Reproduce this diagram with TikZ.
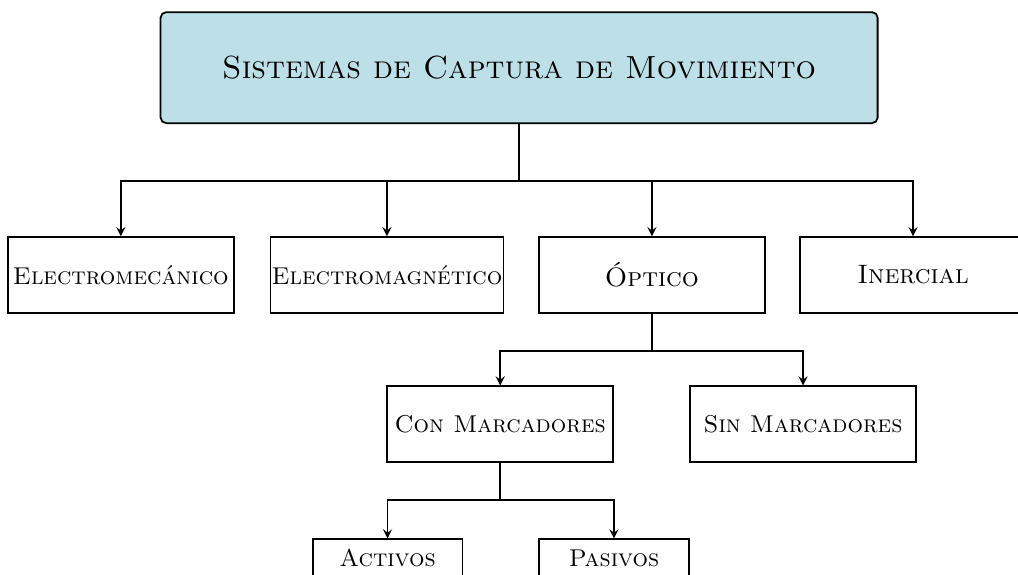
\documentclass[tikz,border=0pt,11pt]{standalone}
\usetikzlibrary{positioning}
\definecolor{celeste}{RGB}{189,224,232}

\begin{document}
\begin{tikzpicture}[
caja/.style={draw,thick,minimum width=3.57cm,minimum height=1.2cm,inner sep=0.5pt,font=\normalsize\scshape},
cajita/.style={caja,minimum width=2.37cm,minimum height=0.6cm},
raiz/.style={draw,thick,rounded corners=2.5pt,fill=celeste,minimum width=11.34cm,minimum height=1.755cm,font=\Large\scshape},
flecha/.style={thick,-stealth}]
\useasboundingbox (0,0) rectangle (16.1,-9.09);
\node[raiz] (sistemas) at (8.21,-1.07) {Sistemas de Captura de Movimiento};
\node[caja] (emec) at (1.91,-4.35) {Electromecánico};
\node[caja] (emag) at (6.12,-4.35) {Electromagnético};
\node[caja,font=\large\scshape] (optico) at (10.31,-4.35) {Óptico};
\node[caja,font=\large\scshape] (inercial) at (14.44,-4.35) {Inercial};
\node[caja] (con) at (7.91,-6.71) {Con Marcadores};
\node[caja] (sin) at (12.7,-6.71) {Sin Marcadores};
\node[cajita] (activos) at (6.13,-8.83) {Activos};
\node[cajita] (pasivos) at (9.71,-8.83) {Pasivos};
\draw[thick] (sistemas.south) -- ++(0,-0.9) coordinate (barra);
\foreach \hijo in {emec,emag,optico,inercial}
  \draw[flecha] (barra) -| (\hijo.north);
\foreach \hijo in {con,sin}
  \draw[flecha] (optico.south) -- ++(0,-0.585) -| (\hijo.north);
\foreach \hijo in {activos,pasivos}
  \draw[flecha] (con.south) -- ++(0,-0.585) -| (\hijo.north);
\end{tikzpicture}
\end{document}
